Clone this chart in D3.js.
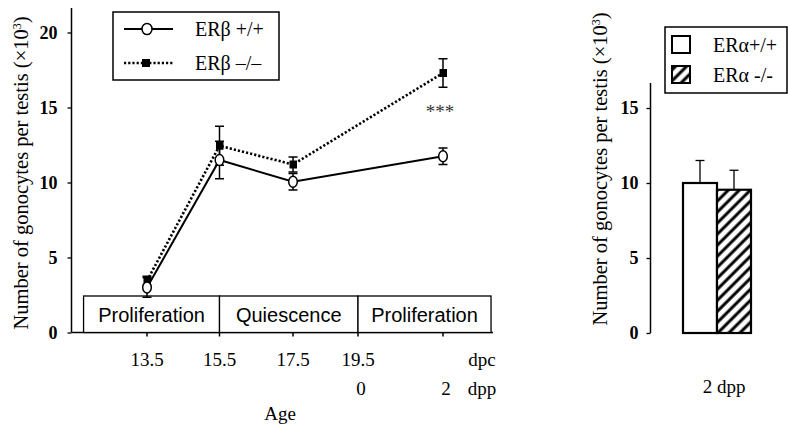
<!DOCTYPE html>
<html><head><meta charset="utf-8">
<script src="https://cdn.jsdelivr.net/npm/d3@7"></script>
<style>
body{margin:0;background:#fff;}
svg{display:block;}
</style></head>
<body>
<svg id="c" width="788" height="425" style="font-family:'Liberation Serif','Times New Roman',serif"></svg>
<script>
// ---------- data ----------
const ageDays = [13.5, 15.5, 17.5, 21.5];           // dpc equivalent (2 dpp = 21.5)
const wtMean  = [3.0, 11.5, 10.05, 11.75];
const wtErr   = [0.65, 1.25, 0.55, 0.55];
const koMean  = [3.45, 12.45, 11.2, 17.3];
const koErr   = [0.3, 1.3, 0.5, 0.95];
const dpcTicks  = [13.5, 15.5, 17.5, 19.5, 21.5];
const dpcLabels = ["13.5", "15.5", "17.5", "19.5", ""];
const dppTicks  = [19.5, 21.5];
const dppLabels = ["0", "2"];
const phases = [
  {label: "Proliferation", from: 11.75, to: 15.5},
  {label: "Quiescence", from: 15.5, to: 19.5},
  {label: "Proliferation", from: 19.5, to: 22.63}
];
const yTicksLeft = [0, 5, 10, 15, 20];
const legendLeft = ["ER\u03b2 +/+", "ER\u03b2 \u2013/\u2013"];

const barGroups = ["ER\u03b1+/+", "ER\u03b1 -/-"];
const barMean = [10.0, 9.55];
const barErr  = [1.5, 1.3];
const yTicksRight = [0, 5, 10, 15];
const yLabel = "Number of gonocytes per testis (\u00d710";

const SERIF = "'Liberation Serif','Times New Roman',serif";
const SANS = "'Liberation Sans',Arial,sans-serif";

// ---------- layout ----------
const svg = d3.select("#c");
const defs = svg.append("defs");
const pat = defs.append("pattern").attr("id", "hatch").attr("patternUnits", "userSpaceOnUse")
  .attr("width", 7.8).attr("height", 7.8).attr("patternTransform", "rotate(45)");
pat.append("rect").attr("width", 7.8).attr("height", 7.8).attr("fill", "#fff");
pat.append("line").attr("x1", 2).attr("x2", 2).attr("y1", 0).attr("y2", 7.8)
  .attr("stroke", "#000").attr("stroke-width", 3);

function txt(sel, size) {
  return sel.style("font-family", SERIF).style("font-size", size + "px").attr("fill", "#000");
}

// Left chart scales
const x = d3.scaleLinear().domain([13.5, 15.5, 17.5, 19.5, 21.5]).range([147, 219.5, 293, 358, 443]);
const y = d3.scaleLinear().domain([0, 20]).range([332.5, 32.5]);
const axL = 71.5, axR = 493, axTop = 8;

const g = svg.append("g");
// y axis
const yAxis = d3.axisLeft(y).tickValues(yTicksLeft).tickSize(4).tickPadding(10).tickSizeOuter(0);
const ya = g.append("g").attr("transform", `translate(${axL},0)`).call(yAxis);
ya.attr("font-family", null).attr("font-size", null);
ya.select(".domain").remove();
ya.selectAll("line").attr("stroke", "#000").attr("stroke-width", 1.3);
txt(ya.selectAll("text"), 18).style("font-weight", "bold");
g.append("line").attr("x1", axL).attr("x2", axL).attr("y1", axTop).attr("y2", y(0))
  .attr("stroke", "#000").attr("stroke-width", 1.5);
// x axis
g.append("line").attr("x1", axL).attr("x2", axR).attr("y1", y(0)).attr("y2", y(0))
  .attr("stroke", "#000").attr("stroke-width", 1.5);
g.selectAll(".xt").data(dpcTicks).join("line").attr("class", "xt")
  .attr("x1", d => x(d)).attr("x2", d => x(d)).attr("y1", y(0)).attr("y2", y(0) + 4)
  .attr("stroke", "#000").attr("stroke-width", 1.5);
txt(g.selectAll(".xl").data(dpcTicks).join("text").attr("class", "xl")
  .attr("x", d => x(d)).attr("y", 366).attr("text-anchor", "middle"), 19)
  .text((d, i) => dpcLabels[i]);
txt(g.selectAll(".xl2").data(dppTicks).join("text").attr("class", "xl2")
  .attr("x", d => x(d) + 3).attr("y", 395).attr("text-anchor", "middle"), 19)
  .text((d, i) => dppLabels[i]);
txt(g.append("text").attr("x", 482).attr("y", 366).attr("text-anchor", "middle"), 19).text("dpc");
txt(g.append("text").attr("x", 482).attr("y", 395).attr("text-anchor", "middle"), 19).text("dpp");
txt(g.append("text").attr("x", 280).attr("y", 420).attr("text-anchor", "middle"), 19).text("Age");

// y label
function yLab(cx, cy) {
  const t = txt(svg.append("text").attr("transform", `translate(${cx},${cy}) rotate(-90)`)
    .attr("text-anchor", "middle"), 20.5);
  t.append("tspan").text(yLabel);
  t.append("tspan").attr("dy", -7).style("font-size", "12px").text("3");
  t.append("tspan").attr("dy", 7).text(")");
}
yLab(28, 173);

// phase box
const pb = g.append("g");
pb.selectAll("rect").data(phases).join("rect")
  .attr("x", d => x(d.from)).attr("width", d => x(d.to) - x(d.from))
  .attr("y", 296).attr("height", y(0) - 296)
  .attr("fill", "#fff").attr("stroke", "#000").attr("stroke-width", 1.3);
pb.selectAll("text").data(phases).join("text")
  .attr("x", d => (x(d.from) + x(d.to)) / 2).attr("y", 322).attr("text-anchor", "middle")
  .style("font-family", SANS).style("font-size", "20px").attr("fill", "#000")
  .text(d => d.label);

// lines
const lineGen = d3.line().x(d => x(d[0])).y(d => y(d[1]));
const koPts = ageDays.map((a, i) => [a, koMean[i]]);
const wtPts = ageDays.map((a, i) => [a, wtMean[i]]);
g.append("path").attr("d", lineGen(koPts)).attr("fill", "none").attr("stroke", "#000")
  .attr("stroke-width", 2.6).attr("stroke-dasharray", "2.2,2");
g.append("path").attr("d", lineGen(wtPts)).attr("fill", "none").attr("stroke", "#000").attr("stroke-width", 2);

function errBars(sel, means, errs, cls) {
  sel.selectAll("." + cls).data(ageDays).join("g").attr("class", cls).each(function (a, i) {
    const e = d3.select(this), cx = x(a);
    const y1 = y(means[i] - errs[i]), y2 = y(means[i] + errs[i]);
    e.append("line").attr("x1", cx).attr("x2", cx).attr("y1", y1).attr("y2", y2).attr("stroke", "#000").attr("stroke-width", 1.5);
    [y1, y2].forEach(yy => e.append("line").attr("x1", cx - 4.5).attr("x2", cx + 4.5).attr("y1", yy).attr("y2", yy)
      .attr("stroke", "#000").attr("stroke-width", 1.5));
  });
}
errBars(g, koMean, koErr, "eko");
errBars(g, wtMean, wtErr, "ewt");
g.selectAll(".sq").data(koPts).join("rect").attr("class", "sq")
  .attr("x", d => x(d[0]) - 3.5).attr("y", d => y(d[1]) - 4).attr("width", 7.5).attr("height", 8).attr("fill", "#000");
g.selectAll(".ci").data(wtPts).join("ellipse").attr("class", "ci")
  .attr("cx", d => x(d[0])).attr("cy", d => y(d[1])).attr("rx", 4.3).attr("ry", 5.5)
  .attr("fill", "#fff").attr("stroke", "#000").attr("stroke-width", 1.5);

// significance
g.append("text").attr("x", x(21.5) - 3).attr("y", 118).attr("text-anchor", "middle")
  .style("font-family", SERIF).style("font-size", "19px").attr("fill", "#333").text("***");

// left legend
const lg = g.append("g");
lg.append("rect").attr("x", 113).attr("y", 12).attr("width", 166).attr("height", 68)
  .attr("fill", "#fff").attr("stroke", "#000").attr("stroke-width", 1.5);
lg.append("line").attr("x1", 124).attr("x2", 173).attr("y1", 29).attr("y2", 29).attr("stroke", "#000").attr("stroke-width", 2);
lg.append("ellipse").attr("cx", 147).attr("cy", 29).attr("rx", 5).attr("ry", 5.5).attr("fill", "#fff").attr("stroke", "#000").attr("stroke-width", 1.5);
lg.append("line").attr("x1", 124).attr("x2", 173).attr("y1", 63).attr("y2", 63).attr("stroke", "#000").attr("stroke-width", 2.6).attr("stroke-dasharray", "2.2,2");
lg.append("rect").attr("x", 142).attr("y", 59).attr("width", 8).attr("height", 8).attr("fill", "#000");
txt(lg.selectAll("text").data(legendLeft).join("text").attr("x", 195).attr("y", (d, i) => 36 + i * 34), 20)
  .text(d => d);

// ---------- right chart ----------
const yr = d3.scaleLinear().domain([0, 15]).range([333, 108]);
const xb = d3.scaleBand().domain(barGroups).range([683, 751]).paddingInner(0);
const axR2 = 650.5;
const rg = svg.append("g");
const yra = rg.append("g").attr("transform", `translate(${axR2},0)`)
  .call(d3.axisLeft(yr).tickValues(yTicksRight).tickSize(4).tickPadding(8).tickSizeOuter(0));
yra.attr("font-family", null).attr("font-size", null);
yra.select(".domain").remove();
yra.selectAll("line").attr("stroke", "#000").attr("stroke-width", 1.3);
txt(yra.selectAll("text"), 18).style("font-weight", "bold");
rg.append("line").attr("x1", axR2).attr("x2", axR2).attr("y1", 83).attr("y2", yr(0)).attr("stroke", "#000").attr("stroke-width", 1.5);

// error bars (upper)
rg.selectAll(".be").data(barGroups).join("g").attr("class", "be").each(function (d, i) {
  const e = d3.select(this), cx = xb(d) + xb.bandwidth() / 2;
  e.append("line").attr("x1", cx).attr("x2", cx).attr("y1", yr(barMean[i])).attr("y2", yr(barMean[i] + barErr[i])).attr("stroke", "#000").attr("stroke-width", 1.3);
  e.append("line").attr("x1", cx - 4.5).attr("x2", cx + 4.5).attr("y1", yr(barMean[i] + barErr[i])).attr("y2", yr(barMean[i] + barErr[i])).attr("stroke", "#000").attr("stroke-width", 1.3);
});
rg.selectAll(".bar").data(barGroups).join("rect").attr("class", "bar")
  .attr("x", d => xb(d)).attr("width", xb.bandwidth())
  .attr("y", (d, i) => yr(barMean[i])).attr("height", (d, i) => yr(0) - yr(barMean[i]))
  .attr("fill", (d, i) => i === 0 ? "#fff" : "url(#hatch)").attr("stroke", "#000").attr("stroke-width", 2.2);

txt(rg.append("text").attr("x", 724).attr("y", 393).attr("text-anchor", "middle"), 19).text("2 dpp");
yLab(607, 169);

// right legend
const rl = rg.append("g");
rl.append("rect").attr("x", 665).attr("y", 27).attr("width", 122).attr("height", 66)
  .attr("fill", "#fff").attr("stroke", "#000").attr("stroke-width", 1.5);
rl.selectAll(".sw").data(barGroups).join("rect").attr("class", "sw")
  .attr("x", 672).attr("y", (d, i) => 36 + i * 30).attr("width", 18).attr("height", 17)
  .attr("fill", (d, i) => i === 0 ? "#fff" : "url(#hatch)").attr("stroke", "#000").attr("stroke-width", 2);
txt(rl.selectAll("text").data(barGroups).join("text").attr("x", 713).attr("y", (d, i) => 52 + i * 30), 20)
  .text(d => d);
</script>
</body></html>
